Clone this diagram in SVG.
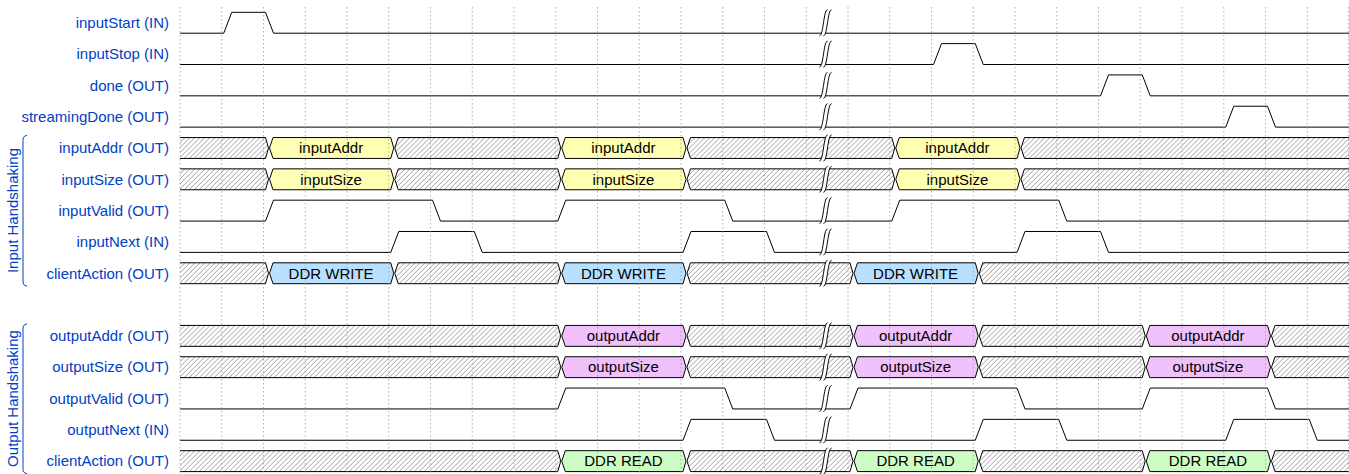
<svg xmlns="http://www.w3.org/2000/svg" xmlns:xlink="http://www.w3.org/1999/xlink" width="1349" height="474" viewBox="0 0 1349 474">
<style>
.lbl{font-family:"Liberation Sans",Arial,sans-serif;font-size:15px;fill:#0041c4;text-anchor:end}
.grp{font-family:"Liberation Sans",Arial,sans-serif;font-size:15px;fill:#0041c4;text-anchor:middle}
.dl{font-family:"Liberation Sans",Arial,sans-serif;font-size:15px;fill:#000;text-anchor:middle}
.sig{fill:none;stroke:#000;stroke-width:1}
.hx{fill:url(#hatch);stroke:#000;stroke-width:1}
.yel{fill:#ffffb4;stroke:#000;stroke-width:1}
.blu{fill:#b9e0ff;stroke:#000;stroke-width:1}
.pnk{fill:#f0c1fb;stroke:#000;stroke-width:1}
.grn{fill:#cdfdc5;stroke:#000;stroke-width:1}
.grid{stroke:#888;stroke-width:0.8;stroke-dasharray:1.5,2.5;opacity:0.8}
.brk{fill:none;stroke:#0041c4;stroke-width:1}
</style>
<defs>
<pattern id="hatch" patternUnits="userSpaceOnUse" width="5" height="5">
<rect width="5" height="5" fill="#fff"/>
<path d="M-1,1 L1,-1 M0,5 L5,0 M4,6 L6,4" stroke="#888" stroke-width="0.8"/>
</pattern>
<g id="gap">
<path d="M-6,13 C-2,13 -2,-13 2,-13 L6,-13 C2,-13 2,13 -2,13 Z" fill="#fff" stroke="none"/>
<path d="M-6,13 C-2,13 -2,-13 2,-13 M-2,13 C2,13 2,-13 6,-13" fill="none" stroke="#000" stroke-width="1"/>
</g>
<g id="inBus">
<path class="hx" d="M180,0 H265.5 L268.5,10.45 L265.5,20.9 H180"/>
<path class="hx" d="M394.75,10.45 L398.25,0 H557.75 L560.75,10.45 L557.75,20.9 H398.25 Z"/>
<path class="hx" d="M687,10.45 L690.5,0 H891.75 L894.75,10.45 L891.75,20.9 H690.5 Z"/>
<path class="hx" d="M1349,0 H1024.5 L1021,10.45 L1024.5,20.9 H1349"/>
<path class="yel" d="M269.5,10.45 L273,0 H390.75 L393.75,10.45 L390.75,20.9 H273 Z"/>
<path class="yel" d="M561.75,10.45 L565.25,0 H683 L686,10.45 L683,20.9 H565.25 Z"/>
<path class="yel" d="M895.75,10.45 L899.25,0 H1017 L1020,10.45 L1017,20.9 H899.25 Z"/>
</g>
<g id="outBusShape">
<path class="hx" d="M180,0 H557.75 L560.75,10.45 L557.75,20.9 H180"/>
<path class="hx" d="M687,10.45 L690.5,0 H850 L853,10.45 L850,20.9 H690.5 Z"/>
<path class="hx" d="M979.25,10.45 L982.75,0 H1142.25 L1145.25,10.45 L1142.25,20.9 H982.75 Z"/>
<path class="hx" d="M1349,0 H1275 L1271.5,10.45 L1275,20.9 H1349"/>
</g>
</defs>

<g id="input-handshaking-group">
<path class="brk" d="M27,135.5 C24,135.5 23,137.5 23,140.5 V281 C23,284 24,286 27,286"/>
<text class="grp" transform="translate(18,210.5) rotate(-90)">Input Handshaking</text>
</g>
<g id="output-handshaking-group">
<path class="brk" d="M27,324 C24,324 23,326 23,329 V468.5 C23,471.5 24,473.5 27,473.5"/>
<text class="grp" transform="translate(18,398.5) rotate(-90)">Output Handshaking</text>
</g>

<g id="connectors">
<g id="wave-inputStart" transform="translate(0,12.3)"><path class="sig" d="M180,20.9 H223.75 L231.75,0 H265.5 L273.5,20.9 H1349"/></g>
<g id="wave-inputStop" transform="translate(0,43.61)"><path class="sig" d="M180,20.9 H933.5 L941.5,0 H975.25 L983.25,20.9 H1349"/></g>
<g id="wave-done" transform="translate(0,74.93)"><path class="sig" d="M180,20.9 H1100.5 L1108.5,0 H1142.25 L1150.25,20.9 H1349"/></g>
<g id="wave-streamingDone" transform="translate(0,106.24)"><path class="sig" d="M180,20.9 H1225.75 L1233.75,0 H1267.5 L1275.5,20.9 H1349"/></g>
<g id="wave-inputAddr" transform="translate(0,137.55)"><use xlink:href="#inBus" href="#inBus"/>
<text class="dl" x="331.1" y="15.75">inputAddr</text><text class="dl" x="623.4" y="15.75">inputAddr</text><text class="dl" x="957.4" y="15.75">inputAddr</text></g>
<g id="wave-inputSize" transform="translate(0,168.86)"><use xlink:href="#inBus" href="#inBus"/>
<text class="dl" x="331.1" y="15.75">inputSize</text><text class="dl" x="623.4" y="15.75">inputSize</text><text class="dl" x="957.4" y="15.75">inputSize</text></g>
<g id="wave-inputValid" transform="translate(0,200.18)"><path class="sig" d="M180,20.9 H265.5 L273.5,0 H432.5 L440.5,20.9 H557.75 L565.75,0 H724.75 L732.75,20.9 H891.75 L899.75,0 H1058.75 L1066.75,20.9 H1349"/></g>
<g id="wave-inputNext" transform="translate(0,231.49)"><path class="sig" d="M180,20.9 H390.75 L398.75,0 H474.25 L482.25,20.9 H683 L691,0 H766.5 L774.5,20.9 H1017 L1025,0 H1100.5 L1108.5,20.9 H1349"/></g>
<g id="wave-clientAction-in" transform="translate(0,262.8)">
<path class="hx" d="M180,0 H265.5 L268.5,10.45 L265.5,20.9 H180"/>
<path class="hx" d="M394.75,10.45 L398.25,0 H557.75 L560.75,10.45 L557.75,20.9 H398.25 Z"/>
<path class="hx" d="M687,10.45 L690.5,0 H850 L853,10.45 L850,20.9 H690.5 Z"/>
<path class="hx" d="M1349,0 H982.75 L979.25,10.45 L982.75,20.9 H1349"/>
<path class="blu" d="M269.5,10.45 L273,0 H390.75 L393.75,10.45 L390.75,20.9 H273 Z"/>
<path class="blu" d="M561.75,10.45 L565.25,0 H683 L686,10.45 L683,20.9 H565.25 Z"/>
<path class="blu" d="M854,10.45 L857.5,0 H975.25 L978.25,10.45 L975.25,20.9 H857.5 Z"/>
<text class="dl" x="331.1" y="15.75">DDR WRITE</text><text class="dl" x="623.4" y="15.75">DDR WRITE</text><text class="dl" x="915.6" y="15.75">DDR WRITE</text></g>
<g id="wave-outputAddr" transform="translate(0,325.43)"><use xlink:href="#outBusShape" href="#outBusShape"/>
<path class="pnk" d="M561.75,10.45 L565.25,0 H683 L686,10.45 L683,20.9 H565.25 Z"/>
<path class="pnk" d="M854,10.45 L857.5,0 H975.25 L978.25,10.45 L975.25,20.9 H857.5 Z"/>
<path class="pnk" d="M1146.25,10.45 L1149.75,0 H1267.5 L1270.5,10.45 L1267.5,20.9 H1149.75 Z"/>
<text class="dl" x="623.4" y="15.75">outputAddr</text><text class="dl" x="915.6" y="15.75">outputAddr</text><text class="dl" x="1207.9" y="15.75">outputAddr</text></g>
<g id="wave-outputSize" transform="translate(0,356.74)"><use xlink:href="#outBusShape" href="#outBusShape"/>
<path class="pnk" d="M561.75,10.45 L565.25,0 H683 L686,10.45 L683,20.9 H565.25 Z"/>
<path class="pnk" d="M854,10.45 L857.5,0 H975.25 L978.25,10.45 L975.25,20.9 H857.5 Z"/>
<path class="pnk" d="M1146.25,10.45 L1149.75,0 H1267.5 L1270.5,10.45 L1267.5,20.9 H1149.75 Z"/>
<text class="dl" x="623.4" y="15.75">outputSize</text><text class="dl" x="915.6" y="15.75">outputSize</text><text class="dl" x="1207.9" y="15.75">outputSize</text></g>
<g id="wave-outputValid" transform="translate(0,388.05)"><path class="sig" d="M180,20.9 H557.75 L565.75,0 H724.75 L732.75,20.9 H850 L858,0 H1017 L1025,20.9 H1142.25 L1150.25,0 H1267.5 L1275.5,20.9 H1349"/></g>
<g id="wave-outputNext" transform="translate(0,419.36)"><path class="sig" d="M180,20.9 H683 L691,0 H766.5 L774.5,20.9 H975.25 L983.25,0 H1058.75 L1066.75,20.9 H1225.75 L1233.75,0 H1309.25 L1317.25,20.9 H1349"/></g>
<g id="wave-clientAction-out" transform="translate(0,450.68)"><use xlink:href="#outBusShape" href="#outBusShape"/>
<path class="grn" d="M561.75,10.45 L565.25,0 H683 L686,10.45 L683,20.9 H565.25 Z"/>
<path class="grn" d="M854,10.45 L857.5,0 H975.25 L978.25,10.45 L975.25,20.9 H857.5 Z"/>
<path class="grn" d="M1146.25,10.45 L1149.75,0 H1267.5 L1270.5,10.45 L1267.5,20.9 H1149.75 Z"/>
<text class="dl" x="623.4" y="15.75">DDR READ</text><text class="dl" x="915.6" y="15.75">DDR READ</text><text class="dl" x="1207.9" y="15.75">DDR READ</text></g>
</g>

<g id="grid">
<path class="grid" d="M180,7 V474 M221.75,7 V474 M263.5,7 V474 M305.25,7 V474 M347,7 V474 M388.75,7 V474 M430.5,7 V474 M472.25,7 V474 M514,7 V474 M555.75,7 V474 M597.5,7 V474 M639.25,7 V474 M681,7 V474 M722.75,7 V474 M764.5,7 V474 M806.25,7 V474 M848,7 V474 M889.75,7 V474 M931.5,7 V474 M973.25,7 V474 M1015,7 V474 M1056.75,7 V474 M1098.5,7 V474 M1140.25,7 V474 M1182,7 V474 M1223.75,7 V474 M1265.5,7 V474 M1307.25,7 V474 M1348.5,7 V474"/>
</g>

<g id="gaps">
<use xlink:href="#gap" href="#gap" x="825.5" y="22.75"/>
<use xlink:href="#gap" href="#gap" x="825.5" y="54.06"/>
<use xlink:href="#gap" href="#gap" x="825.5" y="85.38"/>
<use xlink:href="#gap" href="#gap" x="825.5" y="116.69"/>
<use xlink:href="#gap" href="#gap" x="825.5" y="148"/>
<use xlink:href="#gap" href="#gap" x="825.5" y="179.31"/>
<use xlink:href="#gap" href="#gap" x="825.5" y="210.63"/>
<use xlink:href="#gap" href="#gap" x="825.5" y="241.94"/>
<use xlink:href="#gap" href="#gap" x="825.5" y="273.25"/>
<use xlink:href="#gap" href="#gap" x="825.5" y="335.88"/>
<use xlink:href="#gap" href="#gap" x="825.5" y="367.19"/>
<use xlink:href="#gap" href="#gap" x="825.5" y="398.5"/>
<use xlink:href="#gap" href="#gap" x="825.5" y="429.81"/>
<use xlink:href="#gap" href="#gap" x="825.5" y="461.13"/>
</g>

<g id="labels">
<text id="n-inputStart" class="lbl" x="169" y="28.05">inputStart (IN)</text>
<text id="n-inputStop" class="lbl" x="169" y="59.36">inputStop (IN)</text>
<text id="n-done" class="lbl" x="169" y="90.68">done (OUT)</text>
<text id="n-streamingDone" class="lbl" x="169" y="121.99">streamingDone (OUT)</text>
<text id="n-inputAddr" class="lbl" x="169" y="153.3">inputAddr (OUT)</text>
<text id="n-inputSize" class="lbl" x="169" y="184.61">inputSize (OUT)</text>
<text id="n-inputValid" class="lbl" x="169" y="215.93">inputValid (OUT)</text>
<text id="n-inputNext" class="lbl" x="169" y="247.24">inputNext (IN)</text>
<text id="n-clientAction-in" class="lbl" x="169" y="278.55">clientAction (OUT)</text>
<text id="n-outputAddr" class="lbl" x="169" y="341.18">outputAddr (OUT)</text>
<text id="n-outputSize" class="lbl" x="169" y="372.49">outputSize (OUT)</text>
<text id="n-outputValid" class="lbl" x="169" y="403.8">outputValid (OUT)</text>
<text id="n-outputNext" class="lbl" x="169" y="435.11">outputNext (IN)</text>
<text id="n-clientAction-out" class="lbl" x="169" y="466.43">clientAction (OUT)</text>
</g>
</svg>
